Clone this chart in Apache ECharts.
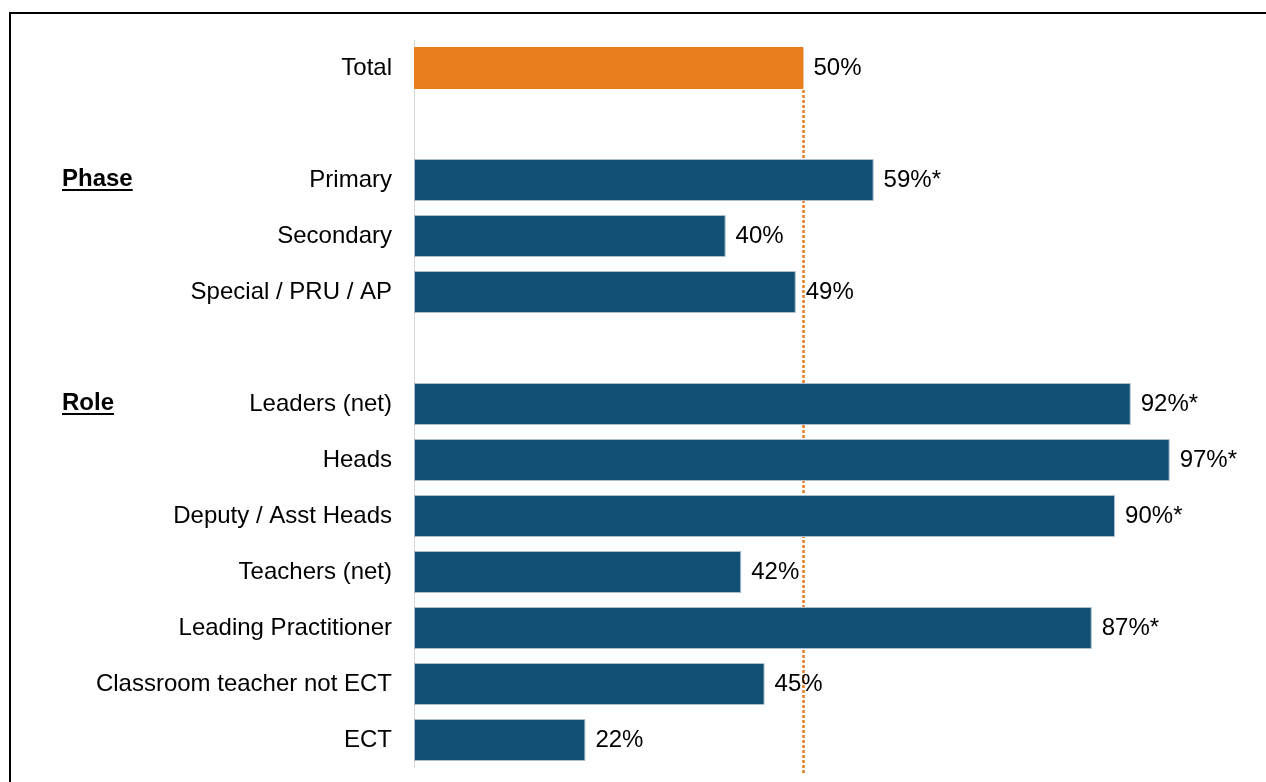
<!DOCTYPE html>
<html>
<head>
<meta charset="utf-8">
<title>Share by phase and role</title>
<script src="https://cdn.jsdelivr.net/npm/echarts@6/dist/echarts.min.js"></script>
<style>
  html, body { margin: 0; padding: 0; background: #fff; }
  #chart { width: 1266px; height: 782px; }
</style>
</head>
<body>
<div id="chart"></div>
<script>
// Rows top to bottom; blank names are spacer rows between groups
const categories = [
  'Total', ' ',
  'Primary', 'Secondary', 'Special / PRU / AP', '  ',
  'Leaders (net)', 'Heads', 'Deputy / Asst Heads', 'Teachers (net)',
  'Leading Practitioner', 'Classroom teacher not ECT', 'ECT'
];
const values = [50, null, 59, 40, 49, null, 92, 97, 90, 42, 87, 45, 22];
// rows marked as significantly different from the total
const significant = [false, false, true, false, false, false, true, true, true, false, true, false, false];
const groupHeadings = [
  { text: 'Phase', row: 'Primary' },
  { text: 'Role', row: 'Leaders (net)' }
];
const totalValue = 50;

const NAVY = '#124f74';
const ORANGE = '#e87e1e';
const FONT = '"Liberation Sans", Arial, sans-serif';

const chart = echarts.init(document.getElementById('chart'), null, { renderer: 'canvas' });

const barData = values.map((v, i) => ({
  value: v,
  itemStyle: i === 0 ? { color: ORANGE, borderColor: ORANGE } : { color: NAVY }
}));

chart.setOption({
  animation: false,
  grid: { left: 414, top: 40, right: 73, bottom: 14 },
  xAxis: {
    type: 'value', min: 0, max: 100, show: false,
    splitLine: { show: false }
  },
  yAxis: {
    type: 'category', data: categories, inverse: true,
    axisLine: { show: true, lineStyle: { color: '#d9d9d9', width: 1 } },
    axisTick: { show: false },
    axisLabel: { color: '#000', fontSize: 24, fontFamily: FONT, margin: 22 }
  },
  series: [{
    type: 'bar',
    data: barData,
    barWidth: 42,
    z: 2,
    itemStyle: { color: NAVY, borderColor: '#a9bfd0', borderWidth: 1 },
    label: {
      show: true, position: 'right', distance: 10,
      color: '#000', fontSize: 24, fontFamily: FONT,
      formatter: p => p.value == null ? '' : p.value + '%' + (significant[p.dataIndex] ? '*' : '')
    },
    // reference line at the total, running from under the total bar to the foot of the chart
    markLine: {
      silent: true, z: 1, symbol: 'none',
      label: { show: false },
      lineStyle: { color: ORANGE, width: 2.5, type: [3, 2] },
      data: [[
        { coord: [totalValue, 'Total'], y: 90 },
        { coord: [totalValue, 'ECT'], y: 775 }
      ]]
    }
  }]
});

// Group headings, bold and underlined, aligned with their first row
const measure = document.createElement('canvas').getContext('2d');
const headFont = 'bold 24px ' + FONT;
measure.font = headFont;
const graphics = [{
  type: 'rect', silent: true,
  shape: { x: 10, y: 13, width: 1300, height: 800 },
  style: { fill: 'none', stroke: '#000', lineWidth: 2 }
}];
groupHeadings.forEach(h => {
  const yc = chart.convertToPixel({ yAxisIndex: 0 }, h.row);
  const w = measure.measureText(h.text).width;
  graphics.push({
    type: 'text', silent: true,
    style: { text: h.text, x: 62, y: yc - 1, verticalAlign: 'middle', font: headFont, fill: '#000' }
  });
  graphics.push({
    type: 'line', silent: true,
    shape: { x1: 62, y1: yc + 10, x2: 62 + w, y2: yc + 10 },
    style: { stroke: '#000', lineWidth: 2 }
  });
});
chart.setOption({ graphic: graphics });
</script>
</body>
</html>
